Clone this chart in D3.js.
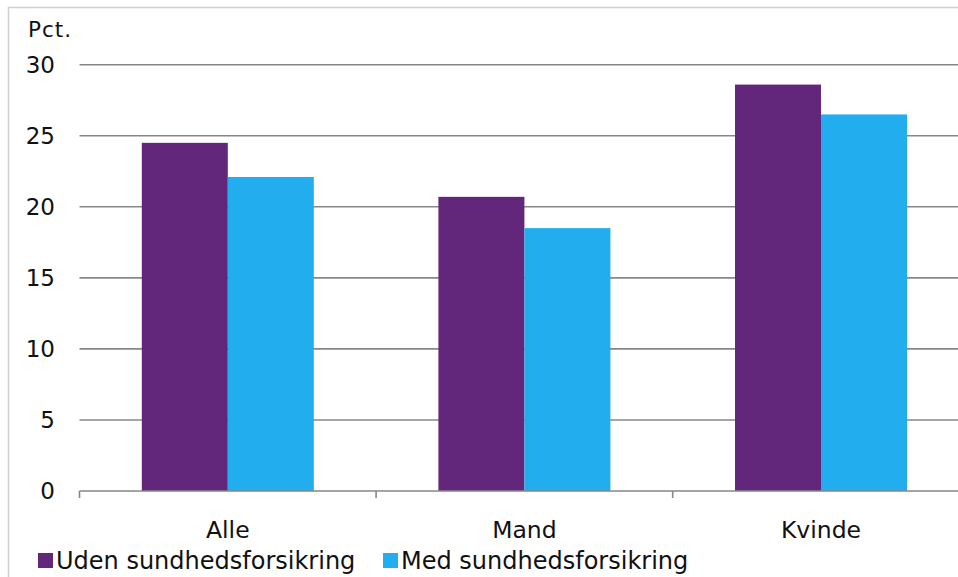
<!DOCTYPE html>
<html>
<head>
<meta charset="utf-8">
<script src="https://cdn.jsdelivr.net/npm/d3@7"></script>
<style>
  html, body { margin: 0; padding: 0; background: #fff; }
  svg { display: block; }
  text { font-family: "DejaVu Sans", Verdana, sans-serif; fill: #111; }
</style>
</head>
<body>
<svg id="chart" width="958" height="577"></svg>
<script>
const categories = ["Alle", "Mand", "Kvinde"];
const seriesNames = ["Uden sundhedsforsikring", "Med sundhedsforsikring"];
const udenValues = [24.5, 20.7, 28.6];
const medValues = [22.1, 18.5, 26.5];
const yTicks = [0, 5, 10, 15, 20, 25, 30];
const colors = ["#62267b", "#22adee"];
const yLabel = "Pct.";

const data = categories.map((c, i) => ({ cat: c, values: [udenValues[i], medValues[i]] }));

const svg = d3.select("#chart");

// outer chart border (extends beyond visible frame on right/bottom)
svg.append("rect")
  .attr("x", 8.5).attr("y", 7.5)
  .attr("width", 1000).attr("height", 700)
  .attr("fill", "none").attr("stroke", "#cfcfcf").attr("stroke-width", 1.5);

const plotLeft = 79.5, plotRight = 969.3, plotTop = 64.7, plotBottom = 491;

const x = d3.scaleBand().domain(categories).range([plotLeft, plotRight]).paddingInner(0).paddingOuter(0);
const y = d3.scaleLinear().domain([0, 30]).range([plotBottom, plotTop]);

// gridlines
svg.append("g")
  .selectAll("line")
  .data(yTicks.filter(t => t > 0))
  .join("line")
  .attr("x1", plotLeft).attr("x2", plotRight)
  .attr("y1", d => y(d)).attr("y2", d => y(d))
  .attr("stroke", "#878787").attr("stroke-width", 1.6);

// y tick labels
svg.append("g")
  .selectAll("text")
  .data(yTicks)
  .join("text")
  .attr("x", 55)
  .attr("y", d => y(d))
  .attr("dy", "0.36em")
  .attr("text-anchor", "end")
  .attr("font-size", 23)
  .text(d => d);

// y label
svg.append("text")
  .attr("x", 28).attr("y", 37)
  .attr("font-size", 21.5)
  .attr("letter-spacing", 1)
  .text(yLabel);

// bars
const groupWidth = 172;
const x1 = d3.scaleBand().domain([0, 1]).range([0, groupWidth]);
const groups = svg.append("g")
  .selectAll("g")
  .data(data)
  .join("g")
  .attr("transform", d => `translate(${x(d.cat) + (x.bandwidth() - groupWidth) / 2},0)`);
groups.selectAll("rect")
  .data(d => d.values.map((v, i) => ({ v, i })))
  .join("rect")
  .attr("x", d => x1(d.i))
  .attr("width", x1.bandwidth())
  .attr("y", d => y(d.v))
  .attr("height", d => y(0) - y(d.v))
  .attr("fill", d => colors[d.i]);

// x axis
const xAxis = d3.axisBottom(x).tickSize(0).tickFormat("");
const axisG = svg.append("g").attr("transform", `translate(0,${plotBottom})`).call(xAxis);
axisG.select(".domain").attr("stroke", "#878787").attr("stroke-width", 1.6).attr("d", `M${plotLeft},0H${plotRight}`);
// tick marks at category boundaries
const boundaries = categories.map(c => x(c)).concat([plotRight]);
svg.append("g")
  .selectAll("line")
  .data(boundaries)
  .join("line")
  .attr("x1", d => d).attr("x2", d => d)
  .attr("y1", plotBottom).attr("y2", plotBottom + 7)
  .attr("stroke", "#878787").attr("stroke-width", 1.6);

// category labels
svg.append("g")
  .selectAll("text")
  .data(categories)
  .join("text")
  .attr("x", d => x(d) + x.bandwidth() / 2)
  .attr("y", 538)
  .attr("text-anchor", "middle")
  .attr("font-size", 23.5)
  .text(d => d);

// legend
const legendX = [38, 383];
const leg = svg.append("g")
  .selectAll("g")
  .data(seriesNames)
  .join("g")
  .attr("transform", (d, i) => `translate(${legendX[i]},0)`);
leg.append("rect")
  .attr("x", 0).attr("y", 553)
  .attr("width", 15).attr("height", 15)
  .attr("fill", (d, i) => colors[i]);
leg.append("text")
  .attr("x", 18).attr("y", 569)
  .attr("font-size", 24)
  .text(d => d);
</script>
</body>
</html>
